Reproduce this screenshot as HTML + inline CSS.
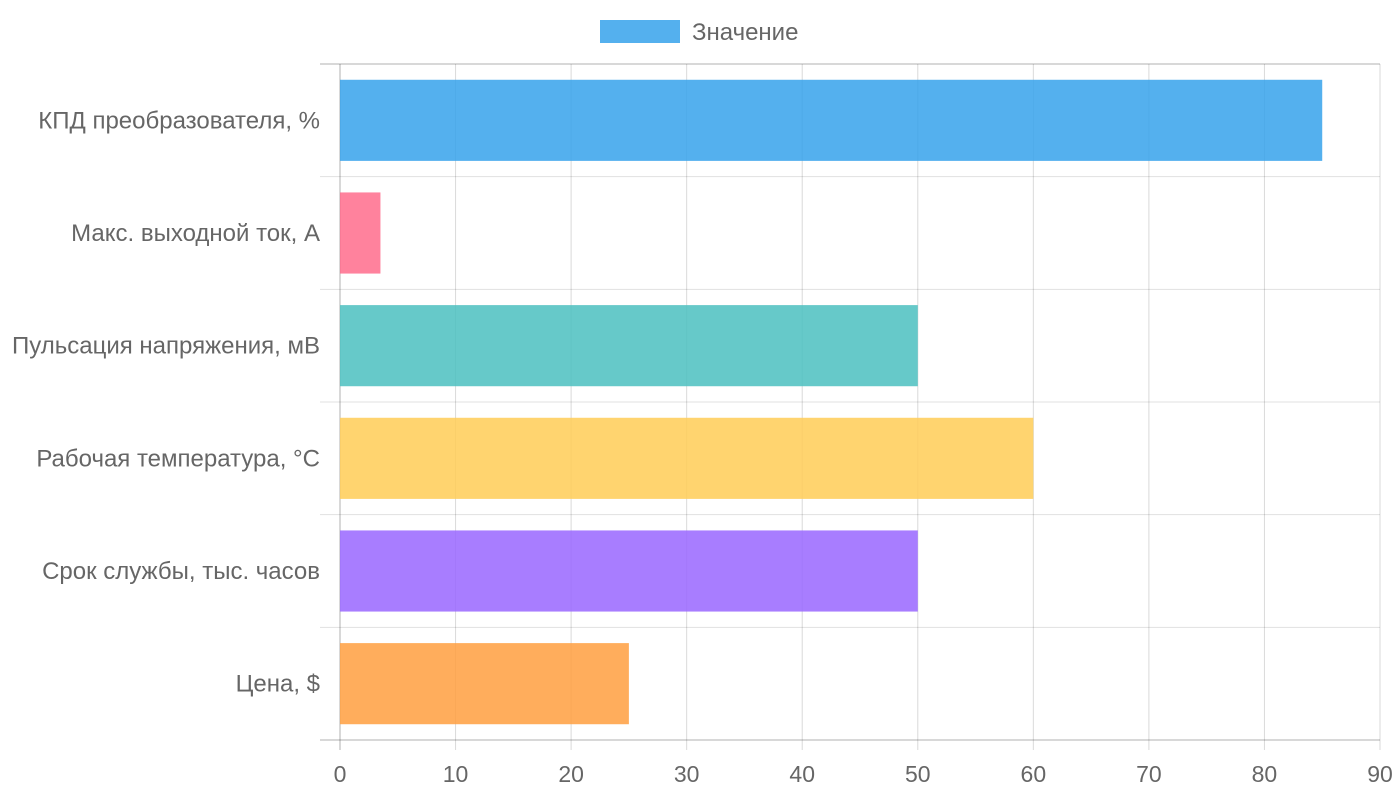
<!DOCTYPE html>
<html><head><meta charset="utf-8"><style>
body{margin:0;background:#fff;}
svg text{font-family:"Liberation Sans",sans-serif;fill:#666;}
</style></head><body>
<svg id="chart" width="1400" height="800"></svg>
<script>
const categories=["КПД преобразователя, %","Макс. выходной ток, A","Пульсация напряжения, мВ","Рабочая температура, °C","Срок службы, тыс. часов","Цена, $"];
const values=[85,3.5,50,60,50,25];
const tickLabels=[0,10,20,30,40,50,60,70,80,90];
const colors=["rgba(54,162,235,0.85)","rgba(255,99,132,0.8)","rgba(75,192,192,0.85)","rgba(255,205,86,0.85)","rgba(153,102,255,0.85)","rgba(255,159,64,0.85)"];
const svg=document.getElementById('chart');
const NS="http://www.w3.org/2000/svg";
const L=340,R=1380,T=64,B=740,maxV=90;
const x=v=>L+(v/maxV)*(R-L);
const band=(B-T)/categories.length;
const y=i=>T+i*band;
function mk(tag,attrs,parent){const e=document.createElementNS(NS,tag);for(const k in attrs)e.setAttribute(k,attrs[k]);(parent||svg).appendChild(e);return e;}
tickLabels.forEach(t=>{
 const g=mk('line',{x1:x(t),x2:x(t),y1:T,y2:750,stroke:t===0?'rgba(0,0,0,0.3)':'rgba(0,0,0,0.15)','stroke-width':1});
 
 
 const tx=mk('text',{x:x(t),y:782,'text-anchor':'middle','font-size':23});
 tx.textContent=t;
 
 
});
for(let i=0;i<=categories.length;i++){
 const edge=(i===0||i===categories.length);
 const g=mk('line',{x1:320,x2:R,y1:y(i),y2:y(i),stroke:edge?'rgba(0,0,0,0.3)':'rgba(0,0,0,0.12)','stroke-width':1});
 
 
}
categories.forEach((c,i)=>{
 const bh=band*0.72;
 const r=mk('rect',{x:x(0),y:y(i)+(band-bh)/2,width:x(values[i])-x(0),height:bh,fill:colors[i]});
 
 
 const t=mk('text',{x:320,y:y(i)+band/2+8,'text-anchor':'end','font-size':24});
 t.textContent=c;
 
 
});
const lb=mk('rect',{x:600,y:20,width:80,height:23,fill:colors[0]});


const lt=mk('text',{x:692,y:40,'font-size':24});
lt.textContent="Значение";


</script>
</body></html>
